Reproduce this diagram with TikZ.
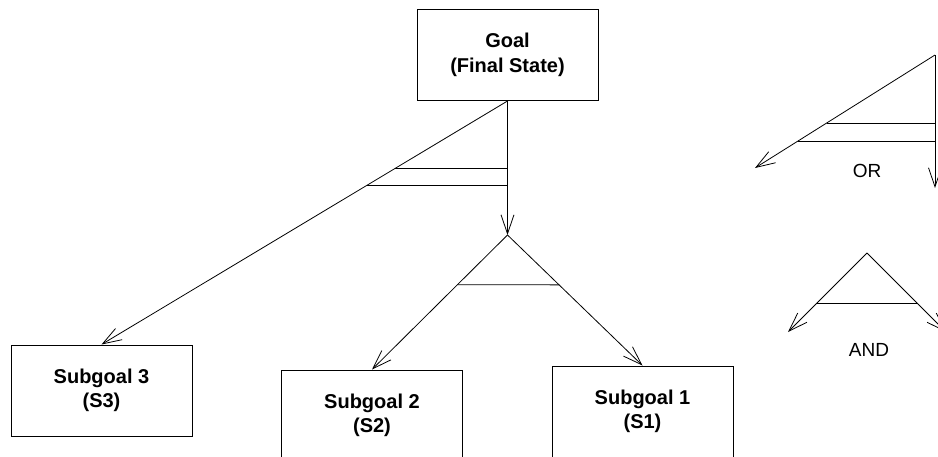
\documentclass[tikz,border=0pt]{standalone}
\usepackage{fontspec}
\setmainfont{Liberation Sans}
\usetikzlibrary{arrows.meta,calc}

\tikzset{
  goalbox/.style={draw, line width=1pt, fill=white, minimum width=181pt,
    minimum height=91pt, align=center, inner sep=0pt,
    font=\bfseries\fontsize{20}{24.5}\selectfont},
  link/.style={line width=0.8pt, -{Straight Barb[length=19pt,width=13pt,line width=0.8pt]}},
  bar/.style={line width=0.8pt},
  legendtext/.style={font=\fontsize{19}{22}\selectfont, inner sep=0pt}
}

\begin{document}
\begin{tikzpicture}[x=1pt, y=-1pt]
  \clip (0,0) rectangle (938,456);

  % goal and subgoals
  \node[goalbox] (goal) at (507.5,55) {Goal\\(Final State)};
  \node[goalbox] (s3) at (101.5,390.5) {Subgoal 3\\(S3)};
  \node[goalbox] (s2) at (372,415.5) {Subgoal 2\\(S2)};
  \node[goalbox] (s1) at (642.5,411.5) {Subgoal 1\\(S1)};

  % OR branch from the goal
  \coordinate (andtop) at (goal.south |- 0,235);
  \draw[link] (goal.south) -- (s3.north);
  \draw[link] (goal.south) -- (andtop);
  \draw[bar] ($(goal.south)!0.2776!(s3.north)$) coordinate (or1) -- (or1 -| goal.south);
  \draw[bar] ($(goal.south)!0.347!(s3.north)$) coordinate (or2) -- (or2 -| goal.south);

  % AND branch
  \draw[link] (andtop) -- (s2.north);
  \draw[link] (andtop) -- (s1.north);
  \draw[bar] ($(andtop)!0.37!(s2.north)$) -- ($(andtop)!0.382!(s1.north)$);

  % legend: OR
  \coordinate (ortop) at (935,55);
  \coordinate (orleft) at (755,168);
  \coordinate (ordown) at (935,188);
  \draw[link] (ortop) -- (orleft);
  \draw[link] (ortop) -- (ordown);
  \draw[bar] ($(ortop)!0.602!(orleft)$) coordinate (lg1) -- (lg1 -| ortop);
  \draw[bar] ($(ortop)!0.761!(orleft)$) coordinate (lg2) -- (lg2 -| ortop);
  \node[legendtext] (ortext) at (867,171) {OR};

  % legend: AND
  \coordinate (andlgtop) at (867,253);
  \coordinate (andlgleft) at (788,332);
  \coordinate (andlgright) at (946,332);
  \draw[link] (andlgtop) -- (andlgleft);
  \draw[link] (andlgtop) -- (andlgright);
  \draw[bar] ($(andlgtop)!0.633!(andlgleft)$) -- ($(andlgtop)!0.633!(andlgright)$);
  \node[legendtext] (andtext) at (869,350) {AND};
\end{tikzpicture}
\end{document}
